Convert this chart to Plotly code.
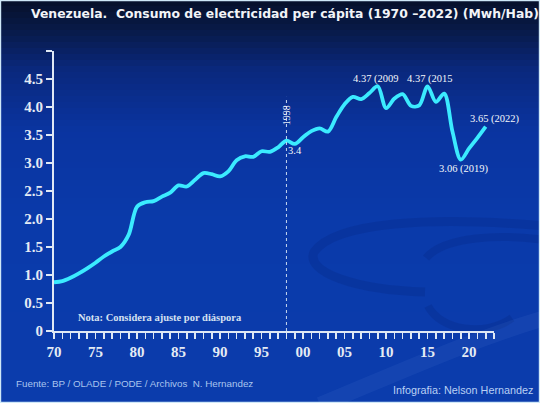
import plotly.graph_objects as go

# ---- data ----
years = list(range(1970, 2023))
consumo = [0.87, 0.89, 0.95, 1.03, 1.12, 1.22, 1.33, 1.42, 1.50, 1.72,
           2.22, 2.30, 2.32, 2.40, 2.47, 2.60, 2.58, 2.70, 2.82, 2.80,
           2.76, 2.85, 3.05, 3.12, 3.11, 3.21, 3.20, 3.28, 3.40, 3.34,
           3.46, 3.57, 3.62, 3.56, 3.82, 4.05, 4.18, 4.14, 4.25, 4.37,
           3.98, 4.15, 4.23, 4.02, 4.03, 4.37, 4.09, 4.24, 3.56, 3.06,
           3.26, 3.45, 3.65]
x_tick_years = list(range(1970, 2024))
x_label_map = {1970: "70", 1975: "75", 1980: "80", 1985: "85", 1990: "90",
               1995: "95", 2000: "00", 2005: "05", 2010: "10", 2015: "15", 2020: "20"}
y_tick_vals = [0, 0.5, 1.0, 1.5, 2.0, 2.5, 3.0, 3.5, 4.0, 4.5, 5.0]
y_tick_text = ["0", "0.5", "1.0", "1.5", "2.0", "2.5", "3.0", "3.5", "4.0", "4.5", ""]
ref_year = 1998
ref_value = 3.4
ref_line_top = 4.18

title = "Venezuela.  Consumo de electricidad per cápita (1970 –2022) (Mwh/Hab)"
nota = "Nota: Considera ajuste por diáspora"
fuente = "Fuente: BP / OLADE / PODE / Archivos  N. Hernandez"
credito = "Infografia: Nelson Hernandez"

W, H = 540, 403
L, R, T, B = 54, 46, 51, 72
PW, PH = W - L - R, H - T - B


def px(xp, yp):
    """figure pixel (from top-left) -> paper coords"""
    return (xp - L) / PW, (H - B - yp) / PH


def path_px(cmds):
    out = []
    for c in cmds:
        if isinstance(c, str):
            out.append(c)
        else:
            a, b = px(*c)
            out.append("%.4f,%.4f" % (a, b))
    return " ".join(out)


fig = go.Figure()
fig.add_trace(go.Scatter(
    x=years, y=consumo, mode="lines",
    line=dict(color="#3BEBFF", width=3.8, shape="spline", smoothing=0.9),
    hoverinfo="skip", showlegend=False))

shapes = []
# background vertical gradient
stops = [(0, (6, 16, 42)), (30, (8, 26, 72)), (70, (10, 40, 125)),
         (130, (10, 52, 160)), (220, (10, 58, 170)), (403, (11, 60, 172))]


def col_at(py):
    for (a, ca), (b, cb) in zip(stops[:-1], stops[1:]):
        if a <= py <= b:
            t = (py - a) / (b - a)
            return tuple(int(round(ca[i] + (cb[i] - ca[i]) * t)) for i in range(3))
    return stops[-1][1]


step = 6
for py in range(0, H, step):
    c = col_at(py + step / 2)
    x0, y1 = px(0, py)
    x1, y0 = px(W, py + step + 0.5)
    shapes.append(dict(type="rect", xref="paper", yref="paper", layer="below",
                       x0=x0, x1=x1, y0=y0, y1=y1,
                       fillcolor="rgb(%d,%d,%d)" % c, line=dict(width=0)))

# faint decorative swoosh (dark arcs + light band)
dark = "rgba(2,22,95,0.14)"
shapes.append(dict(type="path", xref="paper", yref="paper", layer="below",
                   path=path_px(["M", (545, 226), "C", (430, 216), (335, 222), (314, 252),
                                 "C", (305, 272), (355, 290), (425, 292)]),
                   line=dict(color=dark, width=9)))
shapes.append(dict(type="path", xref="paper", yref="paper", layer="below",
                   path=path_px(["M", (426, 258), "C", (445, 236), (500, 234), (545, 240)]),
                   line=dict(color=dark, width=8)))
shapes.append(dict(type="path", xref="paper", yref="paper", layer="below",
                   path=path_px(["M", (428, 306), "C", (440, 330), (485, 338), (512, 318)]),
                   line=dict(color=dark, width=8)))
shapes.append(dict(type="path", xref="paper", yref="paper", layer="below",
                   path=path_px(["M", (320, 405), "C", (400, 372), (470, 340), (545, 318)]),
                   line=dict(color="rgba(140,180,255,0.07)", width=16)))

# reference dotted line at 1998
shapes.append(dict(type="line", xref="x", yref="y", x0=ref_year, x1=ref_year,
                   y0=0, y1=ref_line_top, line=dict(color="#c8d8f0", width=1, dash="dot")))
# border
bx0, by1 = px(0.6, 0.6)
bx1, by0 = px(W - 0.6, H - 0.6)
shapes.append(dict(type="rect", xref="paper", yref="paper",
                   x0=bx0, x1=bx1, y0=by0, y1=by1,
                   line=dict(color="#cfe8f8", width=1.2)))

serif = "Liberation Serif"
ann = []
tx, ty = px(285, 13)
ann.append(dict(text="<b>" + title + "</b>", xref="paper", yref="paper",
                x=tx, y=ty, xanchor="center", yanchor="middle", showarrow=False,
                font=dict(family="DejaVu Sans", size=12.4, color="#f2f4f8")))
fx, fy = px(14, 383)
ann.append(dict(text=fuente, xref="paper", yref="paper", xanchor="left", yanchor="middle",
                x=fx, y=fy, showarrow=False,
                font=dict(family="Liberation Sans", size=9.8, color="#a9c4ee")))
cx, cy = px(535, 390)
ann.append(dict(text=credito, xref="paper", yref="paper", xanchor="right", yanchor="middle",
                x=cx, y=cy, showarrow=False,
                font=dict(family="Liberation Sans", size=10.8, color="#b9d0f4")))
ann.append(dict(text="<b>" + nota + "</b>", xref="x", yref="y",
                x=1982.8, y=0.25, showarrow=False, yanchor="middle",
                font=dict(family=serif, size=10.5, color="#d6e2f2")))
lab = dict(family=serif, size=10.5, color="#f4f7fb")
i09 = years.index(2009); i15 = years.index(2015); i19 = years.index(2019); i22 = years.index(2022)
ann.append(dict(text="%.2f (2009" % consumo[i09], x=2009, y=consumo[i09], xref="x", yref="y",
                showarrow=False, yanchor="bottom", yshift=-1, xshift=-2, font=lab))
ann.append(dict(text="%.2f (2015" % consumo[i15], x=2015, y=consumo[i15], xref="x", yref="y",
                showarrow=False, yanchor="bottom", yshift=-1, xshift=2, font=lab))
ann.append(dict(text="%.2f (2022)" % consumo[i22], x=2022, y=consumo[i22], xref="x", yref="y",
                showarrow=False, yanchor="bottom", yshift=0, xshift=9, font=lab))
ann.append(dict(text="%.2f (2019)" % consumo[i19], x=2019, y=consumo[i19], xref="x", yref="y",
                showarrow=False, yanchor="top", yshift=-1, xshift=3, font=lab))
ann.append(dict(text="%.1f" % ref_value, x=ref_year, y=ref_value, xref="x", yref="y",
                showarrow=False, xanchor="left", yanchor="top", yshift=-2, xshift=0, font=lab))
ann.append(dict(text=str(ref_year), x=ref_year, y=3.86, xref="x", yref="y",
                showarrow=False, textangle=-90, yanchor="middle",
                font=dict(family=serif, size=10, color="#e8eef8")))

fig.update_layout(
    width=W, height=H, margin=dict(l=L, r=R, t=T, b=B),
    paper_bgcolor="rgb(11,60,172)", plot_bgcolor="rgba(0,0,0,0)",
    shapes=shapes, annotations=ann, showlegend=False,
    xaxis=dict(range=[1970, 2023], tickmode="array", tickvals=x_tick_years,
               ticktext=[x_label_map.get(y, "") for y in x_tick_years],
               ticks="outside", ticklen=6, tickwidth=1.6, tickcolor="#dfe8f5",
               showline=True, linecolor="#dfe8f5", linewidth=2, showgrid=False,
               zeroline=False, tickfont=dict(family=serif, size=15, color="#e4ebf4", weight="bold"),
               fixedrange=True),
    yaxis=dict(range=[0, 5], tickmode="array", tickvals=y_tick_vals, ticktext=y_tick_text,
               ticks="outside", ticklen=6, tickwidth=1.6, tickcolor="#dfe8f5",
               showline=True, linecolor="#dfe8f5", linewidth=2, showgrid=False,
               zeroline=False, tickfont=dict(family=serif, size=15, color="#e4ebf4", weight="bold"),
               fixedrange=True),
)
fig.write_html("out.html", config={"displayModeBar": False, "staticPlot": True},
               post_script="document.body.style.margin='0px';document.body.style.padding='0px';"
                           "document.body.style.overflow='hidden';")
